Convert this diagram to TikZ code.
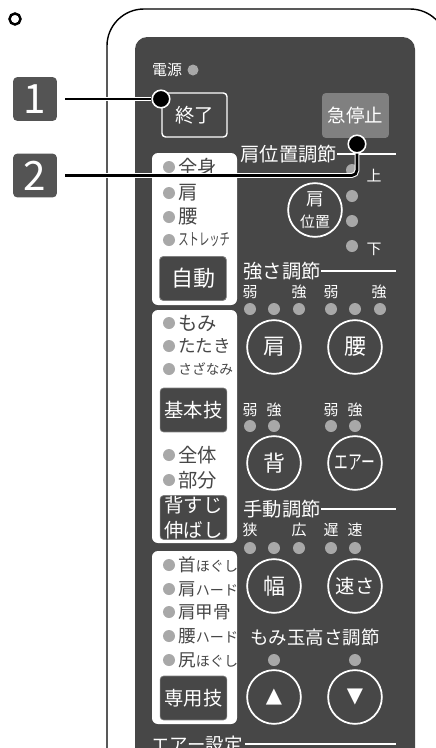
\documentclass[tikz,border=0pt]{standalone}
\usepackage{graphicx}
\usepackage{fontspec}
\setmainfont{Noto Sans CJK JP}
\newfontfamily\symfont{DejaVu Sans}
\newcommand\setfs[1]{\fontsize{#1}{#1}\selectfont}
\definecolor{panelgray}{gray}{0.28}
\definecolor{lampgray}{gray}{0.66}
\definecolor{taggray}{gray}{0.33}
\definecolor{stopgray}{gray}{0.5}
\begin{document}
\begin{tikzpicture}[x=0.02cm, y=-0.02cm,
    every node/.style={inner sep=0pt},
    lamp/.style={fill=lampgray},
    hline/.style={white, line width=0.8pt},
    tagbox/.style={fill=taggray, rounded corners=2.5pt, minimum size=25pt, text=white, font=\setfs{23}},
    menuitem/.style={anchor=west, text=panelgray, font=\setfs{11}},
    menubtn/.style={fill=panelgray, draw=gray, line width=0.4pt, rounded corners=2pt, minimum width=38pt, minimum height=25pt, text=white, font=\setfs{11}},
    roundbtn/.style={circle, draw=white, line width=1pt, minimum size=30.6pt, text=white, font=\setfs{12.5}},
    hdr/.style={anchor=west, text=white, font=\setfs{11}},
    ticklbl/.style={text=white, font=\setfs{8.5}},
    leader/.style={draw=white, double=black, double distance=1.6pt, line width=0.6pt},
    pin/.style={circle, fill=black, draw=white, line width=0.9pt, minimum size=10pt}]
    \clip (0,0) rectangle (436,748);
    \coordinate (redge) at (396,0);

    \draw[line width=1.4pt] (15,19) circle (5.5);

    \draw[line width=0.8pt, rounded corners=21pt] (107,760) -- (107,9) -- (447,9) -- (447,760);
    \fill[panelgray, rounded corners=7pt] (135,37) rectangle (415,780);

    \node[text=white, font=\setfs{8.5}] (power) at (167,70) {電源};
    \fill[lamp] (193,70) circle (5.5);

    \node[draw=white, line width=0.8pt, rounded corners=2pt, minimum width=37pt, minimum height=25pt, text=white, font=\setfs{11}] (endbtn) at (194.5,115) {終了};
    \node[fill=stopgray, rounded corners=2pt, minimum width=38pt, minimum height=25.5pt, text=white, font=\setfs{10.5}] (stopbtn) at (355.5,115.5) {急停止};

    \node[hdr] (hdrpos) at (240,154) {肩位置調節};
    \draw[hline] (hdrpos.east) -- (hdrpos.east -| redge);
    \node[roundbtn, align=center, font=\fontsize{10}{12.5}\selectfont] (bpos) at (315,210) {肩\\{\setfs{8.5}位置}};
    \foreach \y in {170,196,221,246}
        \fill[lamp] (352,\y) circle (6);
    \node[ticklbl] (lblup) at (374,176) {上};
    \node[ticklbl] (lbldown) at (374,249) {下};

    \node[hdr] (hdrstr) at (243,271) {強さ調節};
    \draw[hline] (hdrstr.east) -- (hdrstr.east -| redge);
    \foreach \x/\t [count=\i] in {250/弱,299/強,331/弱,379/強}
        \node[ticklbl] (sl\i) at (\x,292) {\t};
    \foreach \x in {250,274,299,331,355,380}
        \fill[lamp] (\x,309) circle (6);
    \node[roundbtn] (bshoulder) at (274,347) {肩};
    \node[roundbtn] (bwaist) at (355,347) {腰};

    \foreach \x/\t [count=\i] in {250/弱,274/強,331/弱,355/強}
        \node[ticklbl] (bl\i) at (\x,410) {\t};
    \foreach \x in {250,274,331,355}
        \fill[lamp] (\x,426) circle (6);
    \node[roundbtn] (bback) at (274,463) {背};
    \node[roundbtn, font=\setfs{11.5}] (bair) at (355,463) {\scalebox{0.68}[1]{エアー}};

    \node[hdr] (hdrman) at (243,509) {手動調節};
    \draw[hline] (hdrman.east) -- (hdrman.east -| redge);
    \foreach \x/\t [count=\i] in {250/狭,299/広,331/遅,355/速}
        \node[ticklbl] (ml\i) at (\x,530) {\t};
    \foreach \x in {250,274,299,331,355}
        \fill[lamp] (\x,548) circle (6);
    \node[roundbtn] (bwidth) at (274,586) {幅};
    \node[roundbtn, font=\setfs{11}] (bspeed) at (355,586) {速さ};

    \node[text=white, font=\setfs{10.5}] (hdrheight) at (315,637) {もみ玉高さ調節};
    \foreach \x in {274,355}
        \fill[lamp] (\x,660) circle (6);
    \node[roundbtn, font=\symfont\setfs{12}] (bup) at (274,697) {▲};
    \node[roundbtn, font=\symfont\setfs{12}] (bdown) at (355,697) {▼};

    \node[hdr, font=\setfs{10.5}] (hdrair) at (151,745) {エアー設定};
    \draw[hline] (hdrair.east) ++(2,-1) -- (redge |- 744,744);

    \fill[white, rounded corners=3.4pt] (152,153) rectangle (237,305);
    \fill[white, rounded corners=3.4pt] (152,310) rectangle (237,543);
    \fill[white, rounded corners=3.4pt] (152,551) rectangle (237,724);

    \foreach \y/\t [count=\i] in {167/全身,193/肩,217/腰,240/{\scalebox{0.62}[1]{\setfs{9.5}ストレッチ}}} {
        \fill[lamp] (169,\y) circle (6);
        \node[menuitem] (ia\i) at (178,\y) {\t};
    }
    \node[menubtn, font=\setfs{12.5}] (bauto) at (193,278.5) {自動};

    \foreach \y/\t [count=\i] in {323/もみ,346/{\setfs{10}たたき},369/{\setfs{7.8}さざなみ},455/全体,480/部分} {
        \fill[lamp] (169,\y) circle (6);
        \node[menuitem] (ib\i) at (178,\y) {\t};
    }
    \node[menubtn] (bbasic) at (193.5,410) {基本技};
    \node[menubtn, align=center, font=\fontsize{11}{14}\selectfont] (bstretch) at (193.5,517.5) {背すじ\\伸ばし};

    \foreach \y/\t/\s [count=\i] in {565/首/ほぐし,589/肩/ハード,612/肩甲骨/,636/腰/ハード,660/尻/ほぐし} {
        \fill[lamp] (169,\y) circle (6);
        \node[menuitem, font=\setfs{10}] (ic\i) at (178,\y) {\t{\setfs{8}\s}};
    }
    \node[menubtn] (bspecial) at (193.5,698) {専用技};

    \node[tagbox] (tag1) at (35,99) {1};
    \node[tagbox] (tag2) at (35,175.5) {2};
    \node[pin] (pin1) at (161,99) {};
    \node[pin] (pin2) at (357,144) {};
    \draw[leader, shorten <=4.5pt] (tag1) -- (pin1);
    \draw[leader, shorten <=4.5pt, rounded corners=3pt] (tag2) -| (pin2);
\end{tikzpicture}
\end{document}
